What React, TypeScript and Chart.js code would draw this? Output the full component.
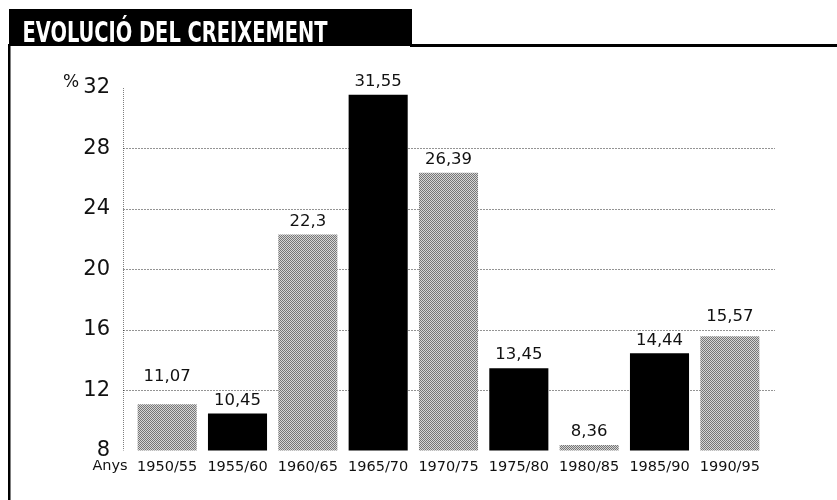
import React, { useEffect, useRef } from "react";
import { Chart, registerables } from "chart.js";

Chart.register(...registerables);

const categories = ["1950/55", "1955/60", "1960/65", "1965/70", "1970/75", "1975/80", "1980/85", "1985/90", "1990/95"];
const values = [11.07, 10.45, 22.3, 31.55, 26.39, 13.45, 8.36, 14.44, 15.57];
const barTones = ["gray", "black", "gray", "black", "gray", "black", "gray", "black", "gray"];
const yMin = 8;
const yMax = 32;
const yStep = 4;
const title = "EVOLUCIÓ DEL CREIXEMENT";
const yUnit = "%";
const xUnit = "Anys";

const FONT = "'DejaVu Sans', 'Liberation Sans', Arial, sans-serif";

function makeGrayPattern(): CanvasPattern | string {
  const c = document.createElement("canvas");
  c.width = 4;
  c.height = 4;
  const p = c.getContext("2d");
  if (!p) return "#a8a8a8";
  p.fillStyle = "#d6d6d6";
  p.fillRect(0, 0, 4, 4);
  p.fillStyle = "#767676";
  for (let y = 0; y < 4; y++) {
    for (let x = 0; x < 4; x++) {
      if ((x + y) % 2 === 0) p.fillRect(x, y, 1, 1);
    }
  }
  const pat = p.createPattern(c, "repeat");
  return pat || "#a8a8a8";
}

const gridPlugin = {
  id: "customGrid",
  beforeDatasetsDraw(chart: any) {
    const { ctx, chartArea, scales } = chart;
    const ys = scales.y;
    const left = chartArea.left - 9;
    const right = chartArea.right + 10;
    ctx.save();
    ctx.strokeStyle = "rgba(0,0,0,0.42)";
    ctx.lineWidth = 1;
    ctx.setLineDash([2, 1]);
    for (let t = yMin + yStep; t < yMax; t += yStep) {
      const y = Math.round(ys.getPixelForValue(t)) + 0.5;
      ctx.beginPath();
      ctx.moveTo(left, y);
      ctx.lineTo(right, y);
      ctx.stroke();
    }
    ctx.setLineDash([1, 1]);
    ctx.strokeStyle = "rgba(0,0,0,0.5)";
    ctx.beginPath();
    ctx.moveTo(left + 0.5, ys.getPixelForValue(yMax));
    ctx.lineTo(left + 0.5, ys.getPixelForValue(yMin));
    ctx.stroke();
    ctx.restore();
  },
};

const valueLabelPlugin = {
  id: "valueLabels",
  afterDatasetsDraw(chart: any) {
    const { ctx, scales } = chart;
    const ys = scales.y;
    const meta = chart.getDatasetMeta(0);
    ctx.save();
    ctx.font = `16.5px ${FONT}`;
    ctx.fillStyle = "#111";
    ctx.textAlign = "center";
    ctx.textBaseline = "middle";
    meta.data.forEach((bar: any, i: number) => {
      let cy = bar.y - 13;
      for (let t = yMin + yStep; t < yMax; t += yStep) {
        const gy = ys.getPixelForValue(t);
        if (Math.abs(cy - gy) < 8) cy = gy - 13;
      }
      const txt = String(values[i]).replace(".", ",");
      ctx.fillText(txt, bar.x, cy);
    });
    ctx.restore();
  },
};

const framePlugin = {
  id: "frame",
  afterDraw(chart: any) {
    const { ctx, chartArea, scales } = chart;
    ctx.save();
    ctx.fillStyle = "#000";
    ctx.fillRect(9, 9, 403, 37);
    ctx.fillRect(410, 44, 427, 3);
    ctx.fillRect(8, 44, 2.5, 456);
    ctx.font = `bold 29px 'DejaVu Sans Condensed', 'DejaVu Sans', sans-serif`;
    ctx.textBaseline = "alphabetic";
    ctx.textAlign = "left";
    const w = ctx.measureText(title).width;
    const target = 305;
    ctx.translate(22.5, 42);
    ctx.scale(target / w, 1);
    ctx.fillStyle = "#fff";
    ctx.fillText(title, 0, 0);
    ctx.restore();

    ctx.save();
    ctx.fillStyle = "#111";
    ctx.textBaseline = "middle";
    ctx.textAlign = "center";
    ctx.font = `17px ${FONT}`;
    ctx.fillText(yUnit, 71, scales.y.getPixelForValue(yMax) - 5);
    ctx.font = `14.5px ${FONT}`;
    ctx.fillText(xUnit, 110, chartArea.bottom + 16);
    ctx.restore();
  },
};

export default function App() {
  const ref = useRef<HTMLCanvasElement | null>(null);
  useEffect(() => {
    if (!ref.current) return;
    const gray = makeGrayPattern();
    const colors = barTones.map((t) => (t === "black" ? "#000" : gray));
    const chart = new Chart(ref.current, {
      type: "bar",
      data: {
        labels: categories,
        datasets: [
          {
            data: values,
            backgroundColor: colors as any,
            borderWidth: 0,
            barPercentage: 0.84,
            categoryPercentage: 1,
          },
        ],
      },
      options: {
        responsive: false,
        animation: false,
        devicePixelRatio: 1,
        layout: { padding: { top: 88, right: 72, left: 0, bottom: 0 } },
        plugins: { legend: { display: false }, tooltip: { enabled: false }, title: { display: false } },
        scales: {
          x: {
            grid: { display: false, drawTicks: false },
            border: { display: false },
            ticks: { color: "#111", font: { family: FONT, size: 14.5 }, padding: 8, maxRotation: 0, autoSkip: false },
            afterFit: (s: any) => {
              s.height = 49.5;
            },
          },
          y: {
            min: yMin,
            max: yMax,
            grid: { display: false, drawTicks: false },
            border: { display: false },
            ticks: { stepSize: yStep, color: "#111", font: { family: FONT, size: 21 }, padding: 22 },
            afterFit: (s: any) => {
              s.width = 132;
            },
          },
        },
      },
      plugins: [gridPlugin, valueLabelPlugin, framePlugin],
    });
    return () => chart.destroy();
  }, []);
  return (
    <div style={{ position: "absolute", left: 0, top: 0, width: 837, height: 500, background: "#fff" }}>
      <canvas ref={ref} width={837} height={500} style={{ width: 837, height: 500, display: "block" }} />
    </div>
  );
}
